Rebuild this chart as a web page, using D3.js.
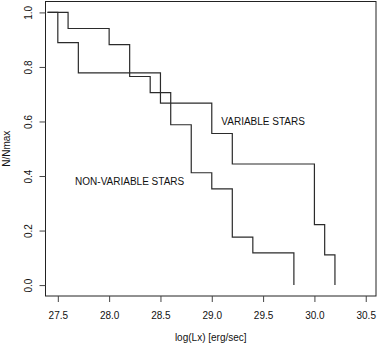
<!DOCTYPE html>
<html>
<head>
<meta charset="utf-8">
<script src="https://d3js.org/d3.v7.min.js"></script>
<style>
  body { margin: 0; background: #fff; }
  svg { display: block; font-family: "Liberation Sans", Arial, sans-serif; }
  .step { fill: none; stroke: #2b2b2b; stroke-width: 1.2px; }
  .axis text { font-size: 10px; fill: #111; }
</style>
</head>
<body>
<svg width="379" height="344"></svg>
<script>
// data (cumulative fraction N/Nmax vs log Lx)
const nonVarLx = [27.4, 27.6, 28.0, 28.2, 28.4, 28.6, 28.8, 29.0, 29.2, 29.4, 29.8];
const nonVarN  = [1.0, 0.941, 0.882, 0.765, 0.706, 0.588, 0.412, 0.353, 0.176, 0.118, 0.0];
const varLx = [27.4, 27.5, 27.7, 28.5, 29.0, 29.2, 30.0, 30.1, 30.2];
const varN  = [1.0, 0.889, 0.778, 0.667, 0.556, 0.444, 0.222, 0.111, 0.0];
const xTicks = [27.5, 28.0, 28.5, 29.0, 29.5, 30.0, 30.5];
const yTicks = [0.0, 0.2, 0.4, 0.6, 0.8, 1.0];

let svg = d3.select("svg");
let plotL = 45.5, plotR = 376, plotT = 1.5, plotB = 296;

let x = d3.scaleLinear().domain([27.38, 30.6]).range([plotL, plotR]);
let y = d3.scaleLinear().domain([-0.04, 1.04]).range([plotB, plotT]);

// box
svg.append("rect")
  .attr("x", plotL).attr("y", plotT)
  .attr("width", plotR - plotL).attr("height", plotB - plotT)
  .attr("fill", "none").attr("stroke", "#222").attr("stroke-width", 1);

// x axis
let xa = svg.append("g").attr("class", "axis")
  .attr("transform", "translate(0," + plotB + ")")
  .call(d3.axisBottom(x).tickValues(xTicks).tickFormat(d3.format(".1f")).tickSize(6).tickPadding(10));
xa.select(".domain").remove();
xa.selectAll("line").attr("stroke", "#444");

// y axis, R style rotated labels
let ya = svg.append("g").attr("class", "axis")
  .attr("transform", "translate(" + plotL + ",0)")
  .call(d3.axisLeft(y).tickValues(yTicks).tickFormat(d3.format(".1f")).tickSize(6));
ya.select(".domain").remove();
ya.selectAll("line").attr("stroke", "#444");
ya.selectAll("text")
  .attr("x", null).attr("dy", null)
  .attr("text-anchor", "middle")
  .attr("transform", "translate(-13,0) rotate(-90) translate(0,-3.5)")
  .attr("dominant-baseline", "middle")
  .attr("y", 0);

// step curves
let line = d3.line()
  .curve(d3.curveStepAfter)
  .x(function(d) { return x(d[0]); })
  .y(function(d) { return y(d[1]); });

svg.append("path").attr("class", "step")
  .attr("d", line(d3.zip(nonVarLx, nonVarN)));
svg.append("path").attr("class", "step")
  .attr("d", line(d3.zip(varLx, varN)));

// labels
svg.append("text")
  .attr("x", x(29.5)).attr("y", y(0.6)).attr("dy", "0.35em")
  .attr("text-anchor", "middle").attr("font-size", "10px").attr("fill", "#111")
  .text("VARIABLE STARS");
svg.append("text")
  .attr("x", x(28.2)).attr("y", y(0.38)).attr("dy", "0.35em")
  .attr("text-anchor", "middle").attr("font-size", "10px").attr("fill", "#111")
  .text("NON-VARIABLE STARS");

// axis titles
svg.append("text")
  .attr("x", (plotL + plotR) / 2).attr("y", 337).attr("dy", "0.35em")
  .attr("text-anchor", "middle").attr("font-size", "10px").attr("fill", "#111")
  .text("log(Lx) [erg/sec]");
svg.append("text")
  .attr("transform", "translate(6," + ((plotT + plotB) / 2) + ") rotate(-90)")
  .attr("dy", "0.35em")
  .attr("text-anchor", "middle").attr("font-size", "10px").attr("fill", "#111")
  .text("N/Nmax");
</script>
</body>
</html>
